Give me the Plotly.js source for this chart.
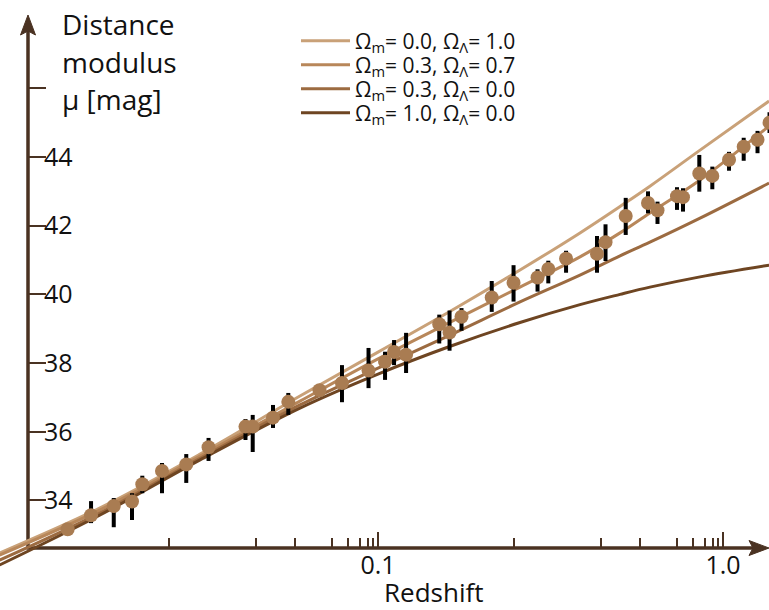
<!DOCTYPE html>
<html>
<head>
<meta charset="utf-8">
<script src="https://cdn.plot.ly/plotly-3.0.1.min.js"></script>
<style>html,body{margin:0;padding:0;background:#fff;}#chart{width:769px;height:610px;}</style>
</head>
<body>
<div id="chart"></div>
<script>
// Model curves
const zGrid = [0.008, 0.0156, 0.0305, 0.0594, 0.1, 0.162, 0.258, 0.385, 0.503, 0.614, 0.858, 1.36];
const muA = [32.47, 33.78, 35.35, 37.04, 38.32, 39.51, 40.71, 41.79, 42.56, 43.15, 44.20, 45.63]; // Ωm=0.0, ΩΛ=1.0
const muB = [32.41, 33.72, 35.29, 36.89, 38.12, 39.19, 40.21, 41.09, 41.79, 42.37, 43.33, 44.90]; // Ωm=0.3, ΩΛ=0.7
const muC = [32.26, 33.63, 35.23, 36.78, 37.85, 38.82, 39.78, 40.56, 41.12, 41.52, 42.22, 43.24]; // Ωm=0.3, ΩΛ=0.0
const muD = [32.12, 33.57, 35.18, 36.69, 37.68, 38.49, 39.18, 39.70, 40.00, 40.21, 40.51, 40.85]; // Ωm=1.0, ΩΛ=0.0

// Supernova data points
const zPts = [0.0126, 0.01473, 0.01714, 0.01936, 0.02074, 0.02365, 0.02781, 0.03227, 0.04129, 0.04333,
  0.04961, 0.05495, 0.06766, 0.07862, 0.09386, 0.1048, 0.1113, 0.1206, 0.1505, 0.1612,
  0.1746, 0.2136, 0.2471, 0.2900, 0.3116, 0.3508, 0.4313, 0.4565, 0.5224, 0.6062,
  0.6458, 0.7356, 0.7656, 0.8537, 0.9311, 1.041, 1.148, 1.259, 1.364];
const muPts = [33.16, 33.57, 33.84, 33.97, 34.47, 34.86, 35.05, 35.55, 36.15, 36.15,
  36.41, 36.87, 37.21, 37.42, 37.78, 38.04, 38.32, 38.24, 39.13, 38.89,
  39.35, 39.91, 40.34, 40.49, 40.74, 41.04, 41.18, 41.52, 42.28, 42.66,
  42.45, 42.86, 42.83, 43.52, 43.45, 43.92, 44.30, 44.50, 45.00];
const errUp = [0, 0.41, 0.23, 0.24, 0.25, 0.23, 0.30, 0.27, 0.22, 0.34,
  0.37, 0.26, 0.15, 0.52, 0.66, 0.29, 0.35, 0.64, 0.28, 0.64,
  0.25, 0.48, 0.51, 0.24, 0.24, 0.23, 0.52, 0.52, 0.53, 0.34,
  0.25, 0.26, 0.26, 0.54, 0.27, 0.23, 0.26, 0.26, 0.30];
const errDown = [0, 0.23, 0.62, 0.54, 0.26, 0.65, 0.54, 0.40, 0.39, 0.74,
  0.30, 0.38, 0.20, 0.56, 0.51, 0.53, 0.38, 0.53, 0.56, 0.53,
  0.41, 0.42, 0.55, 0.41, 0.42, 0.41, 0.55, 0.55, 0.55, 0.30,
  0.40, 0.40, 0.42, 0.53, 0.39, 0.32, 0.41, 0.39, 0.30];

// Axis ticks
const xMajorTicks = [0.1, 1.0];
const xTickText = ['0.1', '1.0'];
const xMinorTicks = [0.02478, 0.0443, 0.05746, 0.07356, 0.08187, 0.08867, 0.09355, 0.09672,
  0.2478, 0.443, 0.5746, 0.7356, 0.8187, 0.8867, 0.9355, 0.9672];
const yTickVals = [34, 36, 38, 40, 42, 44, 46];
const yTickText = ['34', '36', '38', '40', '42', '44', ''];

const legendNames = [
  'Ω<sub>m</sub>= 0.0, Ω<sub>Λ</sub>= 1.0',
  'Ω<sub>m</sub>= 0.3, Ω<sub>Λ</sub>= 0.7',
  'Ω<sub>m</sub>= 0.3, Ω<sub>Λ</sub>= 0.0',
  'Ω<sub>m</sub>= 1.0, Ω<sub>Λ</sub>= 0.0'
];
const curveColors = ['#c9a178', '#b8875a', '#9c6b41', '#6e4522'];
const curves = [muA, muB, muC, muD];

const FONT = 'Open Sans, Noto Sans, sans-serif';
const AXC = '#4a3222';
const W = 769, H = 610;
const px = v => v / W;
const py = v => 1 - v / H;

const legendIds = ['legend', 'legend2', 'legend3', 'legend4'];
const legendRowsY = [41, 65, 89, 113];

const traces = curves.map((mu, i) => ({
  x: zGrid, y: mu, type: 'scatter', mode: 'lines', name: legendNames[i],
  legend: legendIds[i],
  line: {color: curveColors[i], width: 3, shape: 'spline', smoothing: 1},
  hoverinfo: 'skip'
}));
traces.push({
  x: zPts, y: muPts, type: 'scatter', mode: 'markers', showlegend: false,
  marker: {size: 14, color: '#a97c52'},
  error_y: {type: 'data', symmetric: false, array: errUp, arrayminus: errDown,
    color: '#000', thickness: 4, width: 0}
});

const layout = {
  width: W, height: H,
  margin: {l: 0, r: 0, t: 0, b: 0},
  paper_bgcolor: '#fff', plot_bgcolor: 'rgba(0,0,0,0)',
  font: {family: FONT, color: '#111'},
  showlegend: true,
  xaxis: {
    type: 'log', range: [-2.0957, 0.1333], anchor: 'free', position: 1 - 548 / H,
    showline: false, showgrid: false, zeroline: false,
    tickmode: 'array', tickvals: xMajorTicks, ticktext: xTickText,
    ticks: 'inside', ticklen: 16, tickwidth: 2, tickcolor: AXC,
    tickfont: {size: 25, family: FONT, color: '#111'},
    minor: {tickmode: 'array', tickvals: xMinorTicks, ticks: 'inside', ticklen: 10,
      tickwidth: 2, tickcolor: AXC, showgrid: false}
  },
  yaxis: {
    range: [30.81, 48.571], anchor: 'free', position: px(28),
    showline: false, showgrid: false, zeroline: false,
    tickmode: 'array', tickvals: yTickVals, ticktext: yTickText,
    ticks: 'inside', ticklen: 17, tickwidth: 2, tickcolor: AXC,
    ticklabelposition: 'inside', ticklabelstandoff: 0,
    tickfont: {size: 25, family: FONT, color: '#111'}
  },
  shapes: [
    {type: 'line', xref: 'paper', yref: 'paper', x0: px(28), x1: px(28), y0: py(549), y1: py(30),
      line: {color: AXC, width: 3.5}, layer: 'below'},
    {type: 'line', xref: 'paper', yref: 'paper', x0: px(26.5), x1: px(760), y0: py(548), y1: py(548),
      line: {color: AXC, width: 3.5}, layer: 'below'},
    {type: 'path', xref: 'paper', yref: 'paper',
      path: `M ${px(28)} ${py(15)} L ${px(35.5)} ${py(35)} L ${px(28)} ${py(31)} L ${px(20.5)} ${py(35)} Z`,
      fillcolor: AXC, line: {color: AXC, width: 1}},
    {type: 'path', xref: 'paper', yref: 'paper',
      path: `M ${px(769)} ${py(548)} L ${px(749)} ${py(540.5)} L ${px(753)} ${py(548)} L ${px(749)} ${py(555.5)} Z`,
      fillcolor: AXC, line: {color: AXC, width: 1}}
  ],
  annotations: [
    {text: 'Distance', x: px(60), y: py(24), xref: 'paper', yref: 'paper', xanchor: 'left', yanchor: 'middle',
      showarrow: false, font: {size: 28, family: FONT, color: '#111'}},
    {text: 'modulus', x: px(60), y: py(62), xref: 'paper', yref: 'paper', xanchor: 'left', yanchor: 'middle',
      showarrow: false, font: {size: 28, family: FONT, color: '#111'}},
    {text: 'μ [mag]', x: px(60), y: py(99), xref: 'paper', yref: 'paper', xanchor: 'left', yanchor: 'middle',
      showarrow: false, font: {size: 28, family: FONT, color: '#111'}},
    {text: 'Redshift', x: px(433), y: py(612), xref: 'paper', yref: 'paper', xanchor: 'center', yanchor: 'bottom',
      showarrow: false, font: {size: 26, family: FONT, color: '#111'}}
  ]
};

legendIds.forEach((id, i) => {
  layout[id] = {x: px(296), y: py(legendRowsY[i]), xanchor: 'left', yanchor: 'middle',
    bgcolor: 'rgba(0,0,0,0)', borderwidth: 0, itemwidth: 49,
    font: {size: 21, family: FONT, color: '#111'}};
});

Plotly.newPlot('chart', traces, layout, {displayModeBar: false, staticPlot: true});
</script>
</body>
</html>
